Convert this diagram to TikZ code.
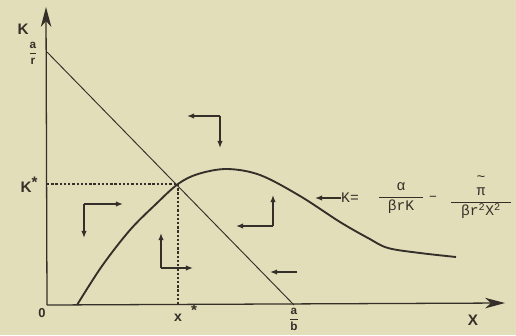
\documentclass[tikz,border=0pt]{standalone}
\usepackage{amsmath}
\usepackage{fontspec}
\usepackage{tikz}
\usetikzlibrary{arrows.meta,positioning}
\newfontfamily\lblfont{Liberation Sans}
\newfontfamily\eqfont{Liberation Mono}
\definecolor{paper}{RGB}{226,222,186}
\definecolor{ink}{RGB}{52,47,40}

\begin{document}
\begin{tikzpicture}[x=0.03cm,y=-0.03cm]
  \tikzstyle{lbl}=[inner sep=0pt,text=ink,font=\lblfont\bfseries\fontsize{13}{14}\selectfont]
  \tikzstyle{eqn}=[inner sep=0pt,text=ink,font=\eqfont\fontsize{12.5}{13}\selectfont]
  \tikzstyle{axis}=[ink,line width=1.1pt,-{Stealth[length=17pt,width=9pt,inset=5pt]}]
  \tikzstyle{flow}=[ink,line width=1pt,-{Latex[length=6pt,width=4.5pt]}]
  \tikzstyle{guide}=[ink,line width=1pt,dash pattern=on 2pt off 1.6pt]

  \fill[paper] (0,0) rectangle (516,335);
  \useasboundingbox (0,0) rectangle (516,335);

  % axes
  \coordinate (o) at (47,305);
  \coordinate (ktop) at (46,7);
  \coordinate (xend) at (505,303);
  \draw[axis] (o) -- (ktop);
  \draw[axis] (o) -- (xend);

  % isoclines
  \coordinate (ar) at (47,52);
  \coordinate (ab) at (294,305);
  \coordinate (eq) at (178,184);
  \draw[ink,line width=0.8pt] (ar) -- (ab);
  \draw[ink,line width=1.6pt] plot[smooth,tension=0.55] coordinates {(77,305) (102,266) (130,230) (156,204) (178,184) (198,174) (227,169) (260,175) (300,196) (340,222) (368,238) (388,248) (420,253) (456,257)};

  \coordinate (kstar) at (47,184);
  \coordinate (xstar) at (178,305);
  \draw[guide] (kstar) -- (eq);
  \draw[guide] (eq) -- (xstar);

  % axis labels
  \node[lbl] (klab) at (23,29) {K};
  \node[lbl] (xlab) at (473,320) {X};
  \node[lbl,font=\lblfont\bfseries\fontsize{11}{12}\selectfont] (zero) at (42,313) {0};
  \node[lbl] (kslab) at (29,185) {K\raisebox{0.6ex}{*}};
  \node[lbl,font=\lblfont\bfseries\fontsize{12}{13}\selectfont] (xslab) at (178,318) {x};
  \node[lbl] (xsstar) at (194,310) {*};
  \node[lbl,font=\lblfont\bfseries\fontsize{10}{11}\selectfont] (arlab) at (33,53) {$\dfrac{\mbox{a}}{\mbox{r}}$};
  \node[lbl,font=\lblfont\bfseries\fontsize{10}{11}\selectfont] (ablab) at (294,319) {$\dfrac{\mbox{a}}{\mbox{b}}$};

  % equation of the curve
  \node[eqn,anchor=west] (keq) at (341,198) {K=};
  \node[eqn] (fra) at (401,198) {$\dfrac{\mbox{\eqfont α}}{\makebox[1.3cm]{\eqfont βrK}}$};
  \node[eqn] (minus) at (433,198) {–};
  \node[eqn] (frb) at (481,197) {$\dfrac{\mbox{\eqfont\shortstack{\textasciitilde\\[3pt]π}}}{\makebox[1.8cm]{\eqfont βr\textsuperscript{2}X\textsuperscript{2}}}$};
  \coordinate (ktip) at (315,198);
  \draw[flow] (keq.west) -- (ktip);

  % direction arrows
  \coordinate (c1) at (220,116);
  \draw[flow] (c1) -- ++(-33,0);
  \draw[flow] (c1) -- ++(0,32);
  \coordinate (c2) at (84,204);
  \draw[flow] (c2) -- ++(39,0);
  \draw[flow] (c2) -- ++(0,34);
  \coordinate (c3) at (273,226);
  \draw[flow] (c3) -- ++(-37,0);
  \draw[flow] (c3) -- ++(0,-31);
  \coordinate (c4) at (161,268);
  \draw[flow] (c4) -- ++(0,-35);
  \draw[flow] (c4) -- ++(32,0);
  \coordinate (c5) at (297,272);
  \draw[flow] (c5) -- ++(-27,0);
\end{tikzpicture}
\end{document}
